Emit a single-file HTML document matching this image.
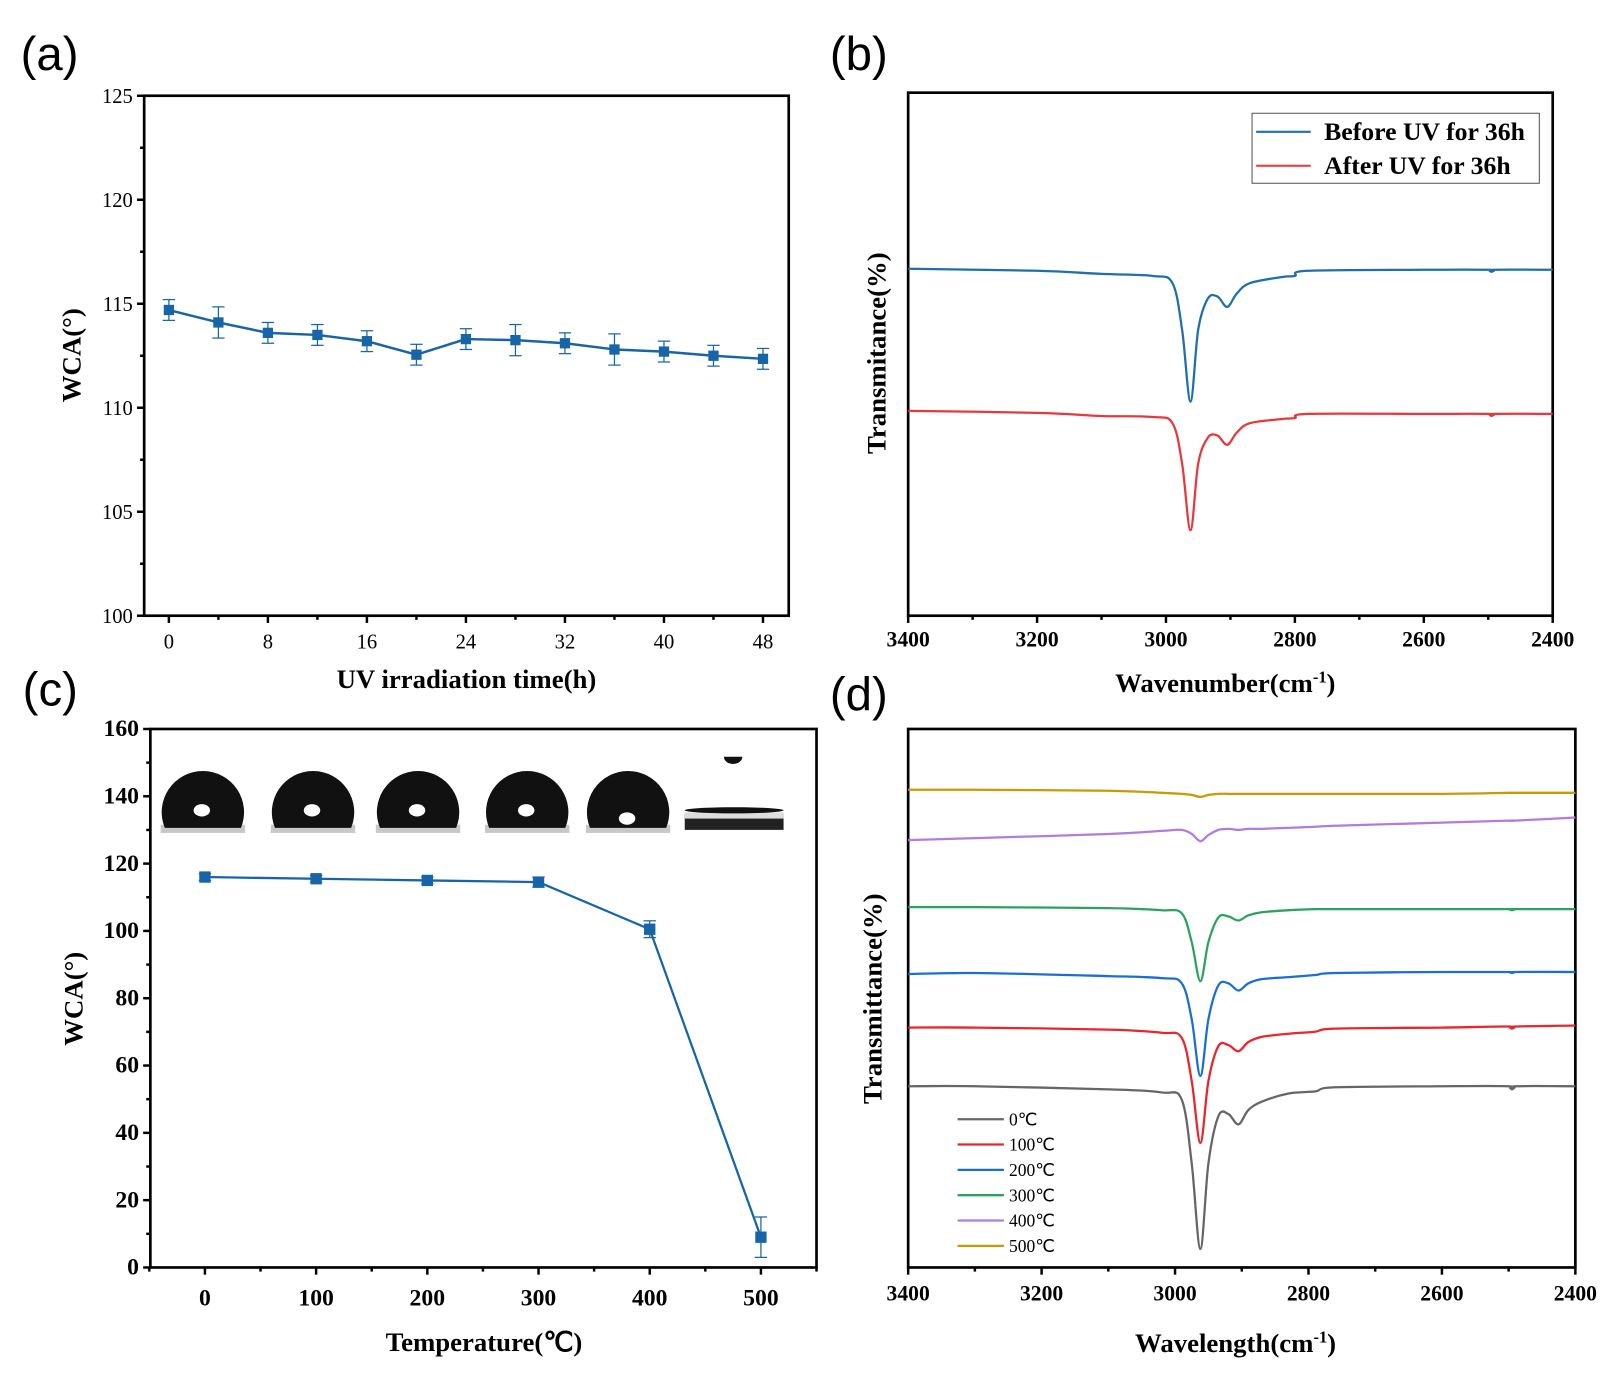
<!DOCTYPE html>
<html><head><meta charset="utf-8"><style>
html,body{margin:0;padding:0;background:#fff;}
svg{display:block;}
text{font-family:"Liberation Serif",serif;}
.lab{font-family:"Liberation Sans",sans-serif;font-size:46px;}
.tk{font-size:20px;}
.tkb{font-size:21px;font-weight:bold;}
.tkc{font-size:23px;font-weight:bold;}
.ttl{font-size:26px;font-weight:bold;}
</style></head><body>
<svg id="fig" width="1614" height="1390" viewBox="0 0 1567.5 1350" xmlns="http://www.w3.org/2000/svg">
<text class="lab" x="20" y="68">(a)</text>
<text class="lab" x="806" y="68">(b)</text>
<text class="lab" x="22" y="685">(c)</text>
<text class="lab" x="806" y="690">(d)</text>
<g id="drops"></g>
</svg>
<script>
// ---- Panel (a) data
const aTimes=[0,4,8,12,16,20,24,28,32,36,40,44,48];
const aWCA=[114.7,114.1,113.6,113.5,113.2,112.55,113.3,113.25,113.1,112.8,112.7,112.5,112.35];
const aErr=[0.5,0.75,0.5,0.5,0.5,0.5,0.5,0.75,0.5,0.75,0.5,0.5,0.5];
const aYTicks=[100,105,110,115,120,125];
const aXTicks=[0,8,16,24,32,40,48];
// ---- Panel (b) data
const bWave=[3400,3200,3100,3020,2990,2975,2962,2950,2935,2920,2905,2890,2870,2820,2800,2780,2600,2500,2495,2490,2400];
const bBefore=[337,335,332,330,323,278,208,278,308,310,300,313,323,329,330,335,336,336,334,336,336];
const bAfter=[199,197,194,193,187,148,83,148,173,175,166,178,187,191,192,196,196,196,194,196,196];
const bXTicks=[3400,3200,3000,2800,2600,2400];
const bLegend=["Before UV for 36h","After UV for 36h"];
// ---- Panel (c) data
const cTemp=[0,100,200,300,400,500];
const cWCA=[116,115.5,115,114.5,100.5,9];
const cErr=[1,1,1,1.5,2.5,6];
const cYTicks=[0,20,40,60,80,100,120,140,160];
const cXTicks=[0,100,200,300,400,500];
// ---- Panel (d) data
const dWave=[3400,3300,3100,3020,2990,2975,2962,2950,2935,2920,2905,2890,2870,2830,2790,2760,2600,2500,2495,2490,2400];
const d0=[176,176,173,170,163,101,18,101,147,149,139,153,161,169,171,175,176,176,173,176,176];
const d100=[233,233,231,228,223,181,121,181,215,216,210,219,224,227,229,232,233,234,232,234,235];
const d200=[285,286,283,281,276,241,186,241,274,276,269,276,280,282,284,286,287,287,286,287,287];
const d300=[350,350,349,347,344,316,278,316,340,341,337,342,345,347,348,348,348,348,347,348,348];
const d400=[415,417,421,424,425,421,414,420,425,426,425,426,426,427,428,429,432,434,434,434,437];
const d500=[464,464,463,461,460,459,457,459,460,460,460,460,460,460,460,460,460,461,461,461,461];
const dLabels=["0℃","100℃","200℃","300℃","400℃","500℃"];
const dXTicks=[3400,3200,3000,2800,2600,2400];

const NS="http://www.w3.org/2000/svg";
const svg=document.getElementById('fig');
function mk(tag,attrs,parent,txt){const e=document.createElementNS(NS,tag);for(const k in attrs)e.setAttribute(k,attrs[k]);if(txt!==undefined)e.textContent=txt;(parent||svg).appendChild(e);return e;}
function lin(d0,d1,r0,r1){return v=>r0+(v-d0)/(d1-d0)*(r1-r0);}

function frame(x0,y0,x1,y1,name){
  const r=mk('rect',{x:x0,y:y0,width:x1-x0,height:y1-y0,fill:'none',stroke:'#000','stroke-width':2.6});
  
  
}
function xticks(g,sx,y,vals,len,cls,lab,dy){
  vals.forEach(v=>{mk('line',{x1:sx(v),x2:sx(v),y1:y,y2:y+len,stroke:'#000','stroke-width':2.4},g);
    if(lab){const t=mk('text',{x:sx(v),y:y+dy,'text-anchor':'middle',class:cls},g,String(v));
      
      }});
}
function yticks(g,sy,x,vals,len,cls,lab){
  vals.forEach(v=>{mk('line',{x1:x,x2:x-len,y1:sy(v),y2:sy(v),stroke:'#000','stroke-width':2.4},g);
    if(lab){const t=mk('text',{x:x-11,y:sy(v)+7,'text-anchor':'end',class:cls},g,String(v));
      
      }});
}
function title(x,y,txt,rot,name,sup){
  const t=mk('text',{x:x,y:y,'text-anchor':'middle',class:'ttl',transform:rot?`rotate(-90 ${x} ${y})`:''},svg,txt);
  if(sup){mk('tspan',{dy:-9,'font-size':16},t,sup);mk('tspan',{dy:9},t,')');}
  
  
}
function path(xs,ys,sx,sy,color,w,name,smooth){
  const P=xs.map((x,i)=>[sx(x),sy(ys[i])]);
  let d='M'+P[0][0].toFixed(1)+','+P[0][1].toFixed(1);
  for(let i=0;i<P.length-1;i++){
    if(!smooth){d+='L'+P[i+1][0].toFixed(1)+','+P[i+1][1].toFixed(1);continue;}
    const p0=P[Math.max(0,i-1)],p1=P[i],p2=P[i+1],p3=P[Math.min(P.length-1,i+2)];
    const c1=[p1[0]+(p2[0]-p0[0])/6,p1[1]+(p2[1]-p0[1])/6];
    const c2=[p2[0]-(p3[0]-p1[0])/6,p2[1]-(p3[1]-p1[1])/6];
    d+=`C${c1[0].toFixed(1)},${c1[1].toFixed(1)} ${c2[0].toFixed(1)},${c2[1].toFixed(1)} ${p2[0].toFixed(1)},${p2[1].toFixed(1)}`;
  }
  const p=mk('path',{d:d,fill:'none',stroke:color,'stroke-width':w,'stroke-linejoin':'round'});
  
  
}
function points(xs,ys,es,sx,sy,color,sz,name){
  xs.forEach((x,i)=>{
    const cx=sx(x),cy=sy(ys[i]);
    mk('line',{x1:cx,x2:cx,y1:sy(ys[i]+es[i]),y2:sy(ys[i]-es[i]),stroke:color,'stroke-width':1.2});
    mk('line',{x1:cx-6,x2:cx+6,y1:sy(ys[i]+es[i]),y2:sy(ys[i]+es[i]),stroke:color,'stroke-width':1.2});
    mk('line',{x1:cx-6,x2:cx+6,y1:sy(ys[i]-es[i]),y2:sy(ys[i]-es[i]),stroke:color,'stroke-width':1.2});
    const r=mk('rect',{x:cx-sz/2,y:cy-sz/2,width:sz,height:sz,fill:color});
    
    
  });
}

// ===== Panel (a)
{const g=mk('g',{});
 const sx=lin(0,48,164,741), sy=lin(100,125,598,93);
 frame(140,93,766,598,'plot-a-frame');
 yticks(g,sy,140,aYTicks,7,'tk',true);
 yticks(g,sy,140,[102.5,107.5,112.5,117.5,122.5],4,'tk',false);
 xticks(g,sx,598,aXTicks,7,'tk',true,32);
 xticks(g,sx,598,[4,12,20,28,36,44],4,'tk',false,0);
 title(78,345,'WCA(°)',true,'y-axis-title-a');
 title(453,668,'UV irradiation time(h)',false,'x-axis-title-a');
 path(aTimes,aWCA,sx,sy,'#1765a8',2.4,'wca-uv-line');
 points(aTimes,aWCA,aErr,sx,sy,'#1765a8',10,'wca-uv-point');
}
// ===== Panel (b)
{const g=mk('g',{});
 const sx=lin(3400,2400,882,1508), sy=lin(0,508,598,90);
 frame(882,90,1508,598,'plot-b-frame');
 xticks(g,sx,598,bXTicks,7,'tkb',true,30);
 xticks(g,sx,598,[3300,3100,2900,2700,2500],4,'tkb',false,0);
 title(860,343,'Transmitance(%)',true,'y-axis-title-b');
 title(1190,672,'Wavenumber(cm',false,'x-axis-title-b','-1');
 path(bWave,bBefore,sx,sy,'#1f6fae',2.2,'before-uv-line',true);
 path(bWave,bAfter,sx,sy,'#e8383d',2.2,'after-uv-line',true);
 const lg=mk('g',{});
 mk('rect',{x:1216,y:110,width:279,height:68,fill:'#fff',stroke:'#555','stroke-width':1},lg);
 const lc=['#1f6fae','#e8383d'];
 bLegend.forEach((t,i)=>{const y=128+i*33;
  mk('line',{x1:1220,x2:1273,y1:y,y2:y,stroke:lc[i],'stroke-width':2},lg);
  const e=mk('text',{x:1286,y:y+8,'font-size':25,'font-weight':'bold'},lg,t);
  
  });
}
// ===== Panel (c)
{const g=mk('g',{});
 const sx=lin(0,500,199,739), sy=lin(0,160,1231,708);
 frame(146,708,793,1231,'plot-c-frame');
 yticks(g,sy,146,cYTicks,7,'tkc',true);
 yticks(g,sy,146,[10,30,50,70,90,110,130,150],4,'tkc',false);
 xticks(g,sx,1231,cXTicks,7,'tkc',true,37);
 xticks(g,sx,1231,[-50,50,150,250,350,450,550],4,'tkc',false,0);
 title(80,970,'WCA(°)',true,'y-axis-title-c');
 title(470,1312,'Temperature(℃)',false,'x-axis-title-c');
 path(cTemp,cWCA,sx,sy,'#1765a8',2.2,'wca-temp-line');
 points(cTemp,cWCA,cErr,sx,sy,'#1765a8',11,'wca-temp-point');
 const dg=document.getElementById('drops');
 const cxs=[197,304,406,512,610];
 cxs.forEach((cx,i)=>{
   mk('rect',{x:cx-41,y:801,width:82,height:8,fill:'#c8c8c8'},dg);
   mk('path',{d:`M${cx-37},804 A40,40 0 1 1 ${cx+37},804 Z`,fill:'#111'},dg);
   mk('ellipse',{cx:cx-1,cy:i==4?795:787,rx:8,ry:6,fill:'#fff'},dg);
 });
 mk('rect',{x:665,y:790,width:96,height:16,fill:'#222'},dg);
 mk('rect',{x:665,y:789,width:96,height:6,fill:'#ddd'},dg);
 mk('ellipse',{cx:713,cy:787,rx:48,ry:3,fill:'#111'},dg);
 mk('path',{d:'M703,735 A9,7 0 0 0 721,735 Z',fill:'#111'},dg);
}
// ===== Panel (d)
{const g=mk('g',{});
 const sx=lin(3400,2400,882,1530), sy=lin(0,523,1231,708);
 frame(882,708,1530,1231,'plot-d-frame');
 xticks(g,sx,1231,dXTicks,7,'tkb',true,32);
 xticks(g,sx,1231,[3300,3100,2900,2700,2500],4,'tkb',false,0);
 title(856,970,'Transmittance(%)',true,'y-axis-title-d');
 title(1200,1313,'Wavelength(cm',false,'x-axis-title-d','-1');
 const series=[d0,d100,d200,d300,d400,d500];
 const cols=['#666666','#e8262b','#1a6fd6','#2ca25f','#b07ce0','#c99a06'];
 const names=['line-0c','line-100c','line-200c','line-300c','line-400c','line-500c'];
 series.forEach((s,i)=>path(dWave,s,sx,sy,cols[i],2.2,names[i],true));
 const lg=mk('g',{});
 dLabels.forEach((t,i)=>{const y=1087+i*24.6;
  mk('line',{x1:930,x2:975,y1:y,y2:y,stroke:cols[i],'stroke-width':2.2},lg);
  const e=mk('text',{x:980,y:y+6,'font-size':17},lg,t);
  
  });
}
</script>
</body></html>
